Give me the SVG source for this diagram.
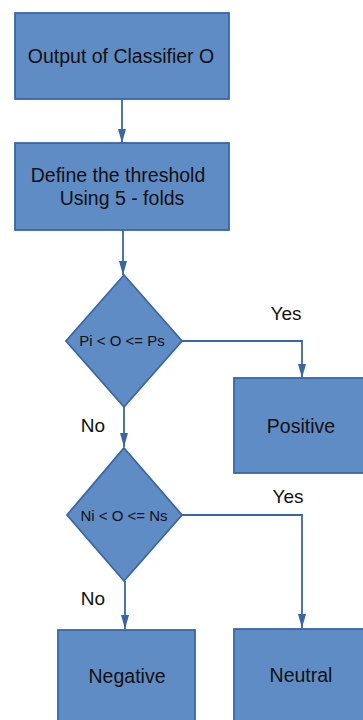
<svg xmlns="http://www.w3.org/2000/svg" width="363" height="720" viewBox="0 0 363 720">
<style>
.box{fill:#5f8cc5;stroke:#3867a8;stroke-width:1.8}
.lbl{font-family:"Liberation Sans",Arial,sans-serif;font-size:19.5px;fill:#111;text-anchor:middle}
.small{font-size:15px}
.edge{fill:none;stroke:#3867a8;stroke-width:1.8}
.edgelbl{font-family:"Liberation Sans",Arial,sans-serif;font-size:19px;fill:#111;text-anchor:middle}
</style>
<defs>
<marker id="arr" markerUnits="userSpaceOnUse" markerWidth="14" markerHeight="10" viewBox="0 0 14 10" refX="14" refY="5" orient="auto">
<path d="M0,1 L14,5 L0,9 Z" fill="#3867a8"/>
</marker>
</defs>
<rect width="363" height="720" fill="#fff"/>
<g id="connectors">
<path class="edge" d="M122,99 V143" marker-end="url(#arr)"/>
<path class="edge" d="M123,230 V275" marker-end="url(#arr)"/>
<path class="edge" d="M182,341 H302 V378" marker-end="url(#arr)"/>
<path class="edge" d="M124,407 V447" marker-end="url(#arr)"/>
<path class="edge" d="M182,515 H302 V628" marker-end="url(#arr)"/>
<path class="edge" d="M125,581 V629" marker-end="url(#arr)"/>
<text class="edgelbl" x="286" y="320">Yes</text>
<text class="edgelbl" x="93" y="432">No</text>
<text class="edgelbl" x="288" y="503">Yes</text>
<text class="edgelbl" x="93" y="605">No</text>
</g>
<g id="output">
<rect class="box" x="15" y="13" width="214" height="86"/>
<text class="lbl" x="121" y="63">Output of Classifier O</text>
</g>
<g id="threshold">
<rect class="box" x="15" y="143" width="214" height="87"/>
<text class="lbl" x="118" y="182">Define the threshold</text>
<text class="lbl" x="122" y="205">Using 5 - folds</text>
</g>
<g id="decision1">
<polygon class="box" points="124,275 182,341 124,407 66,341"/>
<text class="lbl small" x="122" y="346">Pi &lt; O &lt;= Ps</text>
</g>
<g id="positive">
<rect class="box" x="234" y="378" width="140" height="95"/>
<text class="lbl" x="301" y="433">Positive</text>
</g>
<g id="decision2">
<polygon class="box" points="124,448 182,515 124,581 67,515"/>
<text class="lbl small" x="124" y="521">Ni &lt; O &lt;= Ns</text>
</g>
<g id="negative">
<rect class="box" x="58" y="630" width="137" height="100"/>
<text class="lbl" x="127" y="683">Negative</text>
</g>
<g id="neutral">
<rect class="box" x="234" y="629" width="140" height="100"/>
<text class="lbl" x="301" y="682">Neutral</text>
</g>
</svg>
